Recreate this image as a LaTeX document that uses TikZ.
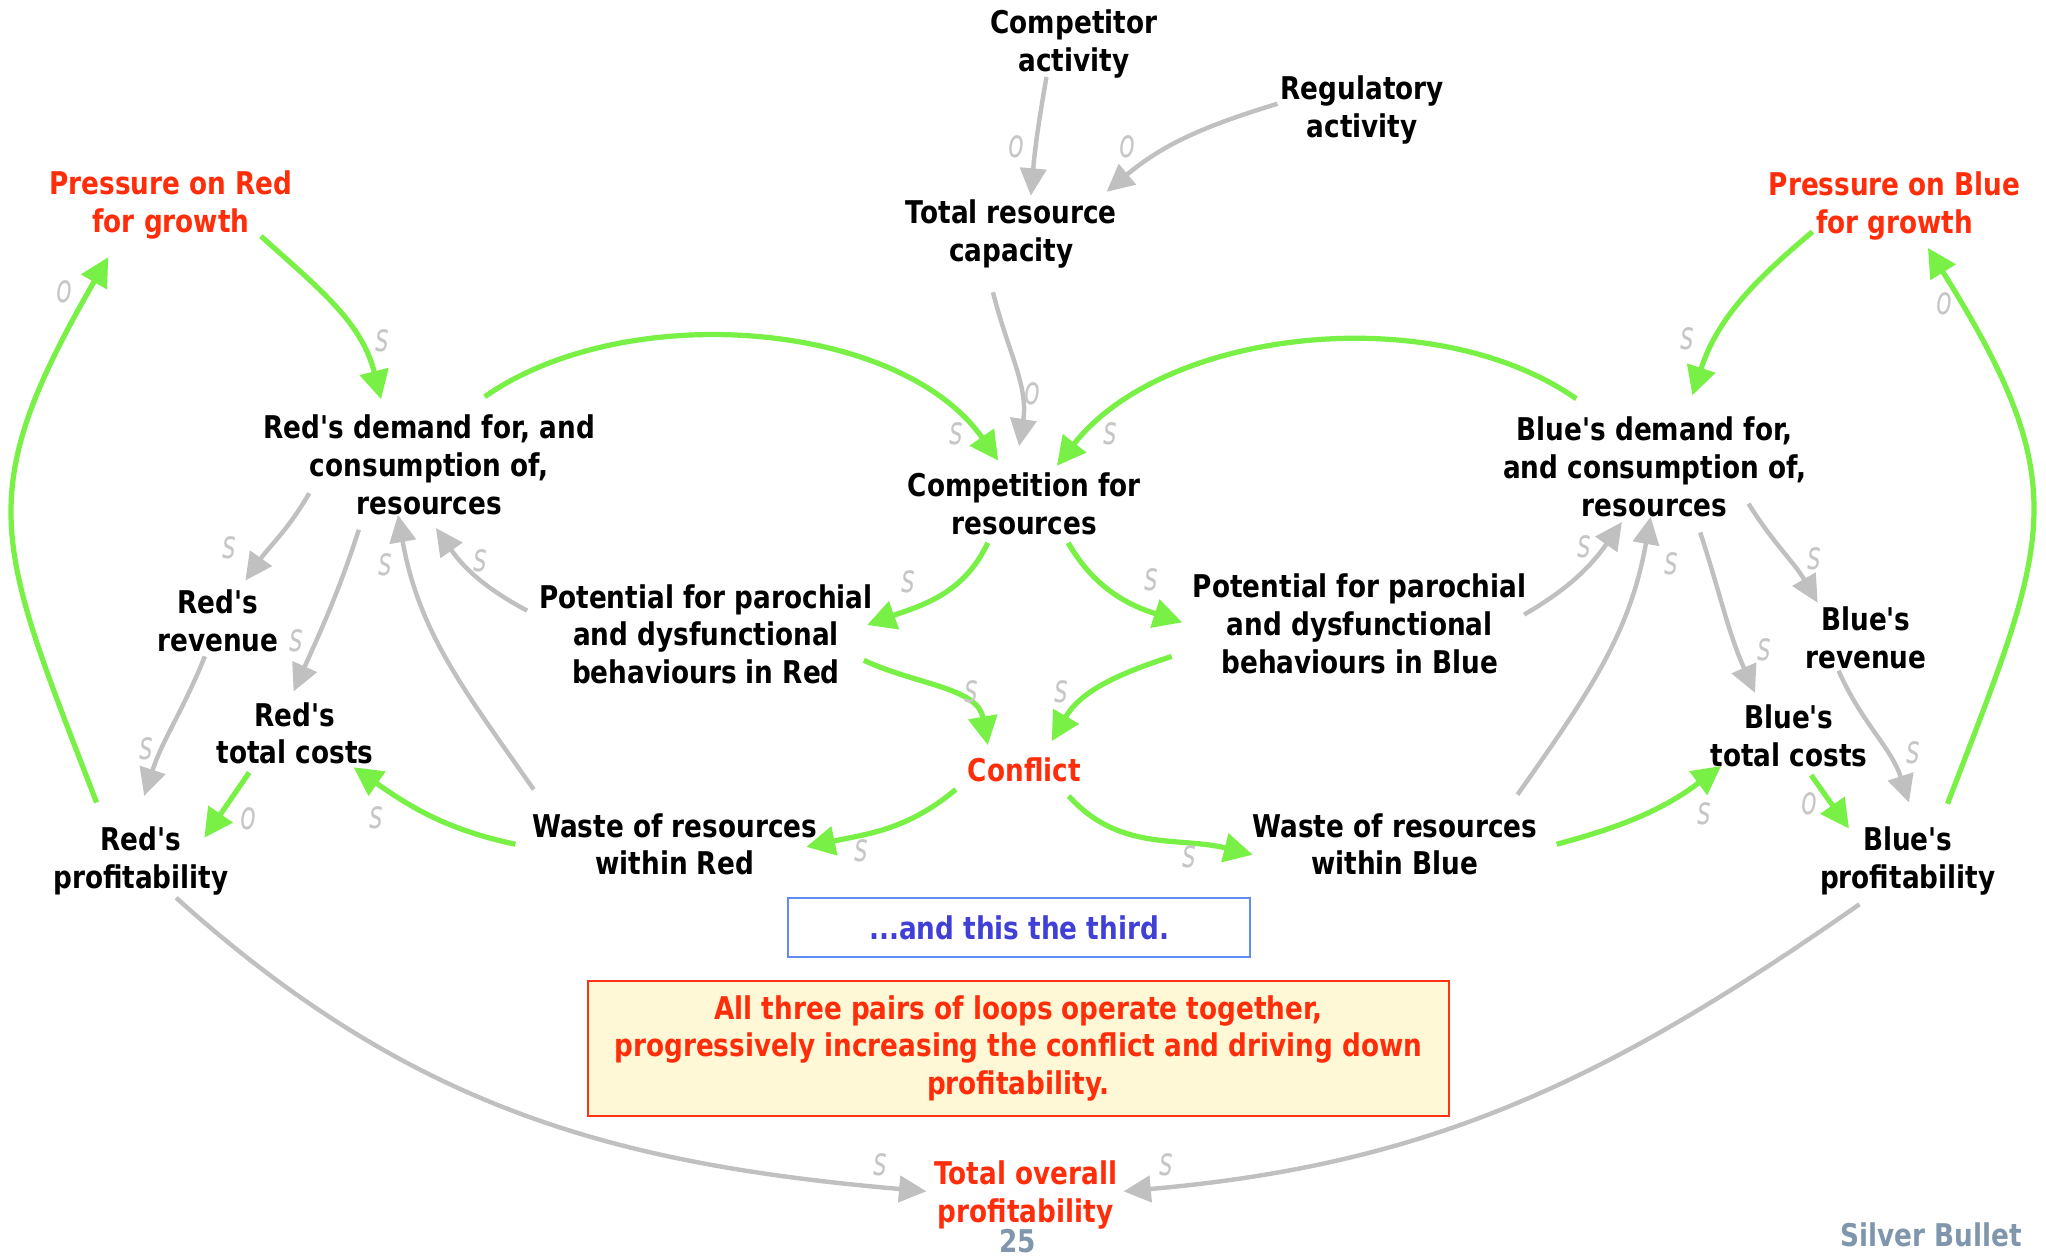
\documentclass[tikz,border=0pt]{standalone}
\usepackage{fontspec}
\newfontfamily\diagfont{DejaVu Sans}[FakeStretch=0.84]
\newfontfamily\signfont{DejaVu Sans}[FakeStretch=0.66]
\usetikzlibrary{arrows.meta}
\definecolor{loopgreen}{RGB}{120,240,70}
\definecolor{linkgray}{RGB}{192,192,192}
\definecolor{signgray}{RGB}{198,198,198}
\definecolor{hotred}{RGB}{255,45,10}
\definecolor{notebluetext}{RGB}{64,64,215}
\definecolor{noteblueline}{RGB}{95,140,240}
\definecolor{notefill}{RGB}{255,248,214}
\definecolor{noteline}{RGB}{255,50,20}
\definecolor{footgray}{RGB}{128,150,172}
\begin{document}
\begin{tikzpicture}[x=0.5pt,y=0.5pt,
  var/.style={align=center, inner sep=0pt, text=black,
    font=\diagfont\bfseries\fontsize{12}{14.5}\selectfont},
  key/.style={var, text=hotred},
  sgn/.style={inner sep=0pt, text=signgray,
    font=\signfont\itshape\fontsize{15}{15}\selectfont},
  gl/.style={draw=loopgreen, line width=2pt,
    -{Triangle[length=11pt,width=11pt]}},
  gr/.style={draw=linkgray, line width=1.7pt,
    -{Triangle[length=10.5pt,width=10pt]}},
]
\path[use as bounding box] (0,0) rectangle (1568,-965);

% variables
\node[var] (comp)  at (823,-34)   {Competitor\\activity};
\node[var] (reg)   at (1044,-84)  {Regulatory\\activity};
\node[var] (cap)   at (775,-179)  {Total resource\\capacity};
\node[key] (pred)  at (131,-157)  {Pressure on Red\\for growth};
\node[key] (pblue) at (1452,-158) {Pressure on Blue\\for growth};
\node[var] (rdem)  at (329,-356)  {Red's demand for, and\\consumption of,\\resources};
\node[var] (compt) at (785,-386)  {Competition for\\resources};
\node[var] (bdem)  at (1268,-358) {Blue's demand for,\\and consumption of,\\resources};
\node[var] (rrev)  at (167,-476)  {Red's\\revenue};
\node[var] (potr)  at (541,-486)  {Potential for parochial\\and dysfunctional\\behaviours in Red};
\node[var] (potb)  at (1042,-478) {Potential for parochial\\and dysfunctional\\behaviours in Blue};
\node[var] (brev)  at (1430,-489) {Blue's\\revenue};
\node[var] (rcost) at (226,-562)  {Red's\\total costs};
\node[var] (bcost) at (1371,-564) {Blue's\\total costs};
\node[key] (confl) at (785,-590)  {Conflict};
\node[var] (rprof) at (108,-660)  {Red's\\profitability};
\node[var] (wred)  at (517,-647)  {Waste of resources\\within Red};
\node[var] (wblue) at (1069,-647) {Waste of resources\\within Blue};
\node[var] (bprof) at (1462,-660) {Blue's\\profitability};
\node[key] (total) at (786,-916)  {Total overall\\profitability};

% notes
\node[var, text=notebluetext, draw=noteblueline, line width=0.8pt,
  minimum width=177pt, minimum height=22.5pt] (third) at (781,-711)
  {...and this the third.};
\node[var, text=hotred, draw=noteline, fill=notefill, line width=0.8pt,
  minimum width=330pt, minimum height=51.5pt] (summary) at (780.5,-803.5)
  {All three pairs of loops operate together,\\progressively increasing the conflict and driving down\\profitability.};
\node[var, text=footgray] (page) at (780,-951) {25};
\node[var, text=footgray, anchor=east] (brand) at (1550,-946) {Silver Bullet};

% gray links
\draw[gr] ([shift={(-21,-25)}]comp.center) to[out=-100,in=85] ([shift={(15,29)}]cap.center);
\draw[gr] ([shift={(-65,4.5)}]reg.center) to[out=-163,in=40] ([shift={(73,32)}]cap.center);
\draw[gr] ([shift={(-14,-45)}]cap.center) to[out=-76,in=81] ([shift={(-4,44)}]compt.center);
\draw[gr] ([shift={(-92,-22)}]rdem.center) to[out=-120,in=55] ([shift={(21,31)}]rrev.center);
\draw[gr] ([shift={(-54,-50)}]rdem.center) to[out=-108,in=66] ([shift={(-1,32)}]rcost.center);
\draw[gr] ([shift={(-10,-27)}]rrev.center) to[out=-112,in=72] ([shift={(2.5,50)}]rprof.center);
\draw[gr] ([shift={(-108,42)}]wred.center) to[out=125,in=-80] ([shift={(-24,-38.5)}]rdem.center);
\draw[gr] ([shift={(-137,18)}]potr.center) to[out=152,in=-55] ([shift={(5,-48.6)}]rdem.center);
\draw[gr] ([shift={(27,-28)}]rprof.center) to[out=-42,in=175] ([shift={(-76,3)}]total.center);
\draw[gr] ([shift={(-37,-33)}]bprof.center) to[out=-145,in=5] ([shift={(75,3)}]total.center);
\draw[gr] ([shift={(126,7)}]potb.center) to[out=30,in=-125] ([shift={(-25,-42)}]bdem.center);
\draw[gr] ([shift={(94,38)}]wblue.center) to[out=55,in=-100] ([shift={(-3,-38)}]bdem.center);
\draw[gr] ([shift={(35,-50)}]bdem.center) to[out=-72,in=114] ([shift={(-26,33)}]bcost.center);
\draw[gr] ([shift={(72,-28)}]bdem.center) to[out=-58,in=120] ([shift={(-37,27)}]brev.center);
\draw[gr] ([shift={(-21,-25)}]brev.center) to[out=-66,in=108] ([shift={(1,45)}]bprof.center);

% green links
\draw[gl] ([shift={(69,-24)}]pred.center) to[out=-42,in=104] ([shift={(-37,50)}]rdem.center);
\draw[gl] ([shift={(-34,45)}]rprof.center) to[out=111,in=-120,looseness=1.3] ([shift={(-48,-40)}]pred.center);
\draw[gl] ([shift={(42.5,52)}]rdem.center) to[out=35,in=125,looseness=0.85] ([shift={(-20,33)}]compt.center);
\draw[gl] ([shift={(-60,52.4)}]bdem.center) to[out=145,in=52,looseness=0.85] ([shift={(25,29)}]compt.center);
\draw[gl] ([shift={(-63,-19.6)}]pblue.center) to[out=-140,in=72] ([shift={(29,55)}]bdem.center);
\draw[gl] ([shift={(30.5,44)}]bprof.center) to[out=69,in=-58,looseness=1.3] ([shift={(25.5,-32)}]pblue.center);
\draw[gl] ([shift={(-28,-30)}]compt.center) to[out=-115,in=20] ([shift={(123.5,7)}]potr.center);
\draw[gl] ([shift={(33.6,-30)}]compt.center) to[out=-60,in=162] ([shift={(-136,1)}]potb.center);
\draw[gl] ([shift={(121,-20)}]potr.center) to[out=-25,in=100] ([shift={(-28,19)}]confl.center);
\draw[gl] ([shift={(-144,-25)}]potb.center) to[out=-162,in=60] ([shift={(21,22)}]confl.center);
\draw[gl] ([shift={(-52.5,-15)}]confl.center) to[out=-140,in=12] ([shift={(101,-2)}]wred.center);
\draw[gl] ([shift={(34,-20)}]confl.center) to[out=-48,in=166] ([shift={(-109,-8)}]wblue.center);
\draw[gl] ([shift={(-122,0)}]wred.center) to[out=168,in=-35] ([shift={(45,-26)}]rcost.center);
\draw[gl] ([shift={(124,0)}]wblue.center) to[out=15,in=-143] ([shift={(-52,-23)}]bcost.center);
\draw[gl] ([shift={(-35,-30)}]rcost.center) -- ([shift={(48.6,18)}]rprof.center);
\draw[gl] ([shift={(17,-30)}]bcost.center) -- ([shift={(-45,25)}]bprof.center);

% link polarity marks
\foreach \px/\py/\t [count=\k] in {
  778.7/112.5/o, 864/112.5/o, 791/302/o, 176/420/s, 227/491/s, 112/574/s,
  295/433/s, 368/430/s, 674.6/893/s, 893.7/893/s, 1214/419/s, 1281/432/s,
  1352/498/s, 1390/428/s, 1466/577/s,
  293/261/s, 49/224/o, 733/332.5/s, 851/332.5/s, 1293/259.5/s, 1490/232.6/o,
  696/446/s, 882/444/s, 744/530/s, 813.5/530/s, 660/652/s, 911/657/s,
  288/627/s, 1306/624/s, 190.7/627.5/o, 1387/616/o}
  \node[sgn] (sg\k) at (\px,-\py) {\t};
\end{tikzpicture}
\end{document}
